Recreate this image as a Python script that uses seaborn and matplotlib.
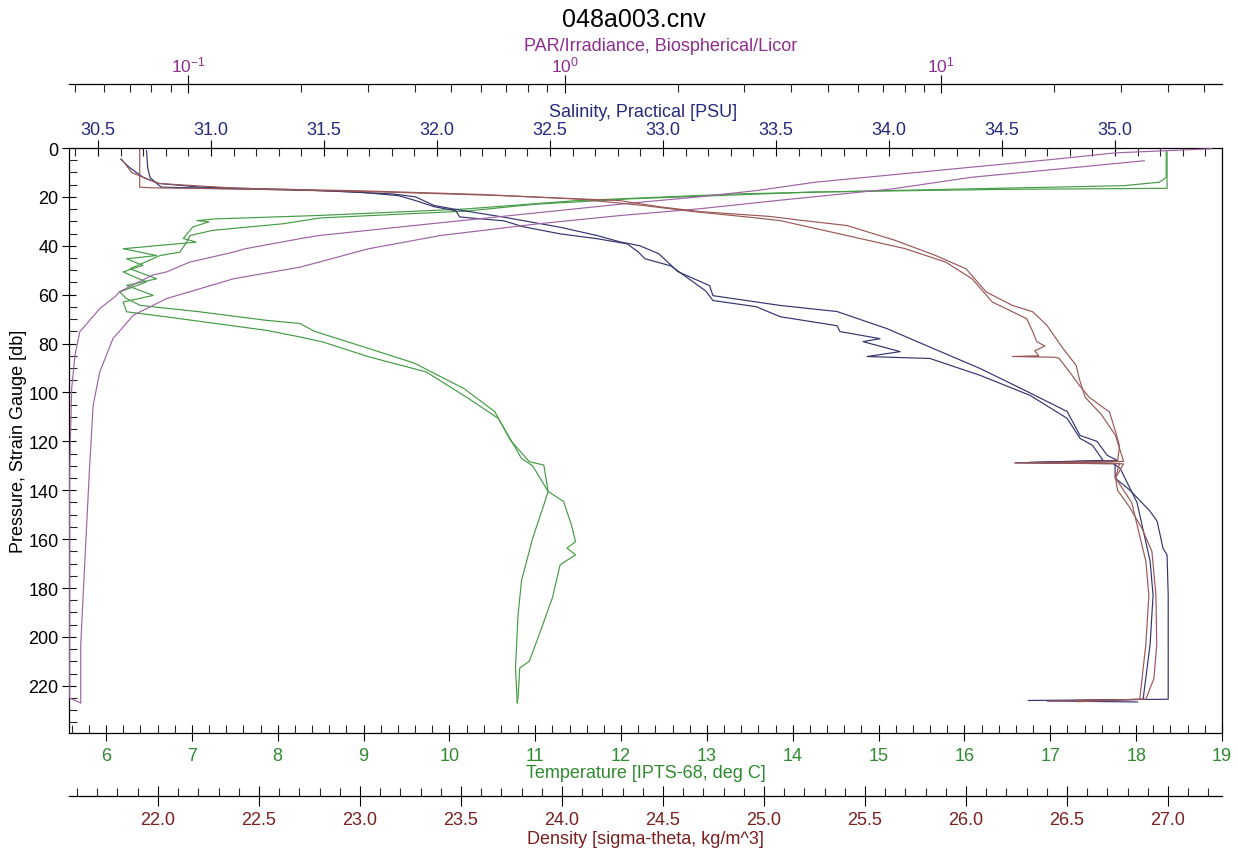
import numpy as np
import pandas as pd
import matplotlib
matplotlib.use("Agg")
import matplotlib.pyplot as plt
import seaborn as sns
from matplotlib.ticker import (MultipleLocator, LogLocator, NullFormatter,
                               LogFormatterMathtext, FormatStrFormatter)

# CTD profiles, (pressure [db], value) per cast
sal_down = [(1.0, 30.715), (8.0, 30.72), (12.0, 30.73), (14.5, 30.76), (16.0, 30.78),
            (16.5, 31.0), (17.5, 31.5), (18.8, 31.805), (20.0, 31.905), (23.5, 31.987),
            (24.9, 32.069), (28.3, 32.296), (32.4, 32.544), (35.8, 32.708), (38.4, 32.81),
            (40.0, 32.898), (43.3, 32.982), (50.6, 33.066), (56.3, 33.206), (60.4, 33.221),
            (64.4, 33.518), (66.9, 33.77), (73.9, 33.991), (82.0, 34.195), (90.2, 34.403),
            (99.6, 34.611), (107.8, 34.788), (117.6, 34.845), (120.0, 34.92), (125.7, 34.965),
            (127.8, 35.01), (128.8, 34.56), (129.1, 35.0), (135.0, 35.0), (140.0, 35.066),
            (148.6, 35.155), (152.7, 35.186), (163.7, 35.212), (166.5, 35.23), (183.0, 35.235),
            (211.0, 35.235), (225.5, 35.235), (226.0, 34.615)]

sal_up = [(4.5, 30.60), (8.0, 30.64), (12.0, 30.70), (14.5, 30.77), (16.0, 30.95),
          (17.0, 31.35), (18.0, 31.65), (19.5, 31.83), (21.5, 31.905), (24.0, 31.987),
          (25.7, 32.084), (28.2, 32.10), (29.8, 32.296), (32.2, 32.381), (35.1, 32.544),
          (37.1, 32.708), (39.2, 32.841), (42.4, 32.889), (45.3, 32.92), (48.2, 33.034),
          (58.4, 33.188), (62.4, 33.221), (64.9, 33.412), (69.0, 33.518), (72.7, 33.77),
          (75.1, 33.783), (78.0, 33.96), (79.2, 33.885), (83.3, 34.049), (85.3, 33.903),
          (86.1, 34.181), (93.0, 34.403), (101.2, 34.624), (110.6, 34.788), (118.8, 34.845),
          (121.6, 34.90), (127.8, 34.947), (128.6, 34.62), (129.0, 34.99), (131.0, 35.022),
          (145.0, 35.097), (169.0, 35.155), (183.0, 35.168), (203.0, 35.155), (225.5, 35.124),
          (226.2, 34.70), (226.6, 35.10)]

den_down = [(0.5, 21.91), (16.0, 21.91), (16.3, 21.97), (17.0, 22.60), (18.1, 23.16),
            (19.5, 23.71), (21.5, 24.285), (24.0, 24.48), (26.0, 24.68), (28.0, 25.03),
            (29.5, 25.175), (31.7, 25.41), (37.8, 25.65), (44.0, 25.85), (49.4, 26.0),
            (58.9, 26.10), (64.4, 26.23), (67.0, 26.33), (72.5, 26.40), (82.0, 26.48),
            (88.9, 26.545), (94.3, 26.56), (102.0, 26.59), (109.0, 26.67), (117.6, 26.74),
            (123.0, 26.76), (128.2, 26.78), (128.8, 26.24), (129.2, 26.78), (135.0, 26.74),
            (140.0, 26.75), (147.0, 26.81), (155.5, 26.87), (165.0, 26.92), (183.0, 26.94),
            (203.0, 26.944), (217.0, 26.93), (225.5, 26.89), (226.2, 26.41)]

den_up = [(4.5, 21.82), (10.0, 21.87), (14.5, 22.0), (16.5, 22.4), (17.5, 23.0),
          (19.0, 23.6), (21.0, 24.1), (23.5, 24.4), (26.0, 24.65), (28.5, 24.95),
          (29.7, 25.08), (35.8, 25.41), (41.2, 25.70), (46.7, 25.90), (53.5, 26.03),
          (63.0, 26.13), (69.8, 26.30), (75.1, 26.33), (79.2, 26.35), (81.0, 26.39),
          (83.0, 26.34), (85.0, 26.36), (85.3, 26.23), (85.6, 26.44), (86.0, 26.46),
          (93.0, 26.525), (97.0, 26.56), (102.0, 26.61), (108.0, 26.71), (116.0, 26.74),
          (122.0, 26.76), (128.0, 26.75), (128.6, 26.50), (129.0, 26.76), (135.0, 26.74),
          (145.0, 26.82), (169.0, 26.89), (183.0, 26.905), (203.0, 26.89), (225.5, 26.86),
          (226.5, 26.55)]

temp_down = [(1.5, 18.35), (12.0, 18.35), (14.0, 18.27), (15.4, 17.86), (17.4, 15.14),
             (18.8, 13.33), (20.8, 11.98), (21.5, 11.49), (24.9, 10.20), (25.6, 9.77),
             (27.6, 8.48), (29.0, 7.27), (29.7, 7.06), (30.2, 7.20), (32.3, 7.01),
             (37.0, 6.90), (38.5, 7.05), (41.2, 6.20), (44.0, 6.59), (45.3, 6.24),
             (48.0, 6.43), (50.7, 6.20), (54.8, 6.47), (58.9, 6.16), (61.6, 6.24),
             (64.4, 6.40), (67.0, 7.09), (70.5, 7.87), (71.8, 8.26), (75.0, 8.43),
             (82.0, 9.06), (88.0, 9.59), (98.4, 10.17), (107.9, 10.53), (119.5, 10.71),
             (128.3, 10.93), (129.7, 11.10), (140.5, 11.15), (146.0, 11.10), (159.6, 10.97),
             (177.0, 10.84), (190.9, 10.80), (212.7, 10.77), (227.0, 10.79)]

temp_up = [(1.5, 18.36), (16.5, 18.36), (16.9, 16.5), (18.0, 14.24), (20.8, 12.1),
           (23.0, 11.0), (25.8, 10.2), (28.6, 8.5), (31.0, 8.06), (33.7, 7.24),
           (35.8, 6.98), (38.5, 6.94), (42.6, 6.86), (44.0, 6.63), (49.4, 6.28),
           (53.5, 6.59), (56.2, 6.24), (60.3, 6.55), (63.0, 6.20), (67.0, 6.24),
           (69.1, 6.71), (74.6, 7.87), (77.3, 8.26), (79.3, 8.52), (85.4, 9.06),
           (91.6, 9.73), (102.4, 10.22), (110.6, 10.57), (127.0, 10.84), (130.0, 10.97),
           (140.5, 11.15), (144.6, 11.33), (154.0, 11.42), (161.0, 11.47), (163.7, 11.37),
           (166.4, 11.47), (170.5, 11.29), (184.0, 11.20), (197.7, 11.06), (210.0, 10.93),
           (212.7, 10.82), (224.9, 10.80), (227.0, 10.79)]

par_down = [(0.3, 52.5), (1.1, 39.6), (2.0, 29.0), (4.5, 20.3), (8.6, 10.7),
            (14.0, 4.63), (17.4, 3.24), (20.0, 2.27), (22.5, 1.51), (26.3, 0.871),
            (31.0, 0.441), (35.8, 0.223), (37.0, 0.20), (41.2, 0.142), (42.6, 0.132),
            (46.7, 0.101), (50.7, 0.0877), (52.0, 0.0805), (58.9, 0.0656), (60.3, 0.0646),
            (65.7, 0.0583), (75.2, 0.0516), (84.8, 0.0501), (98.4, 0.0491), (132.4, 0.0485),
            (225.0, 0.0485), (227.0, 0.0519)]

par_up = [(5.2, 34.7), (7.9, 22.9), (12.0, 12.0), (16.7, 7.45), (21.5, 3.66),
          (24.9, 2.27), (27.6, 1.41), (31.0, 0.851), (35.8, 0.468), (41.2, 0.302),
          (48.7, 0.199), (53.5, 0.132), (61.6, 0.0877), (68.4, 0.0716), (78.0, 0.0632),
          (91.6, 0.0583), (105.2, 0.056), (132.4, 0.0547), (162.0, 0.0535), (203.0, 0.0519),
          (227.0, 0.0519)]

sal_text, sal_line = '#262a7c', '#34346f'
par_text, par_line = '#8f2d8f', '#a062a6'
temp_text, temp_line = '#2e8b2e', '#449c44'
den_text, den_line = '#7b1f1f', '#9a5757'

sns.set_theme(style="ticks")
plt.rcParams['font.family'] = ['Liberation Sans', 'DejaVu Sans']
plt.rcParams['mathtext.default'] = 'regular'
plt.rcParams['text.color'] = 'black'

W, H = 1238, 853
fig = plt.figure(figsize=(W / 100, H / 100), dpi=100)
ax = fig.add_axes([69 / W, 119 / H, 1153 / W, 585 / H])
ax_sal = ax.twiny()
ax_par = ax.twiny()
ax_den = ax.twiny()


def draw(axis, cast, color):
    df = pd.DataFrame(cast, columns=['p', 'v'])
    sns.lineplot(data=df, x='v', y='p', ax=axis, color=color, lw=0.85,
                 sort=False, estimator=None, orient='y')


draw(ax, temp_down, temp_line)
draw(ax, temp_up, temp_line)
draw(ax_sal, sal_down, sal_line)
draw(ax_sal, sal_up, sal_line)
draw(ax_par, par_down, par_line)
draw(ax_par, par_up, par_line)
draw(ax_den, den_down, den_line)
draw(ax_den, den_up, den_line)

ax.set_ylim(239.3, 0)
ax.set_xlim(5.569, 19.0)
ax_sal.set_xlim(30.372, 35.473)
ax_par.set_xscale('log')
ax_par.set_xlim(10 ** -1.316, 10 ** 1.746)
ax_den.set_xlim(21.56, 27.267)

for a in (ax, ax_sal, ax_par, ax_den):
    for s in a.spines.values():
        s.set_visible(False)
        s.set_color('black')
        s.set_linewidth(0.9)
for s in ('left', 'right', 'bottom'):
    ax.spines[s].set_visible(True)
ax_sal.spines['top'].set_visible(True)
ax_par.spines['top'].set_visible(True)
ax_par.spines['top'].set_position(('outward', 46.1))
ax_den.spines['bottom'].set_visible(True)
ax_den.spines['bottom'].set_position(('outward', 45.4))
ax_den.xaxis.set_ticks_position('bottom')
ax_den.xaxis.set_label_position('bottom')

tick_kw = dict(width=0.8, color='black', labelsize=13)

# pressure axis
ax.yaxis.set_major_locator(MultipleLocator(20))
ax.yaxis.set_minor_locator(MultipleLocator(5))
ax.tick_params(axis='y', which='major', direction='inout', length=10, pad=2.5,
               left=True, right=False, labelcolor='black', **tick_kw)
ax.tick_params(axis='y', which='minor', direction='in', length=5.8, width=0.8,
               left=True, right=False)

# temperature axis
ax.xaxis.set_major_locator(MultipleLocator(1))
ax.xaxis.set_minor_locator(MultipleLocator(0.2))
ax.tick_params(axis='x', which='major', direction='inout', length=11.5, pad=4.2,
               bottom=True, top=False, labelcolor=temp_text, **tick_kw)
ax.tick_params(axis='x', which='minor', direction='in', length=5.8, width=0.8,
               bottom=True, top=False)

# salinity axis
ax_sal.xaxis.set_major_locator(MultipleLocator(0.5))
ax_sal.xaxis.set_minor_locator(MultipleLocator(0.1))
ax_sal.xaxis.set_major_formatter(FormatStrFormatter('%.1f'))
ax_sal.tick_params(axis='x', which='major', direction='inout', length=11.5, pad=1.2,
                   top=True, bottom=False, labeltop=True, labelbottom=False,
                   labelcolor=sal_text, **tick_kw)
ax_sal.tick_params(axis='x', which='minor', direction='in', length=5.8, width=0.8,
                   top=True, bottom=False)

# PAR axis
ax_par.xaxis.set_major_locator(LogLocator(base=10, numticks=10))
ax_par.xaxis.set_minor_locator(LogLocator(base=10, subs=np.arange(2, 10), numticks=20))
ax_par.xaxis.set_major_formatter(LogFormatterMathtext())
ax_par.xaxis.set_minor_formatter(NullFormatter())
ax_par.tick_params(axis='x', which='major', direction='inout', length=12.5, pad=0.5,
                   top=True, bottom=False, labeltop=True, labelbottom=False,
                   labelcolor=par_text, width=0.8, color='black', labelsize=12.5)
ax_par.tick_params(axis='x', which='minor', direction='in', length=5.8, width=0.8,
                   top=True, bottom=False)

# density axis
ax_den.xaxis.set_major_locator(MultipleLocator(0.5))
ax_den.xaxis.set_minor_locator(MultipleLocator(0.1))
ax_den.xaxis.set_major_formatter(FormatStrFormatter('%.1f'))
ax_den.tick_params(axis='x', which='major', direction='inout', length=14.4, pad=3.6,
                   bottom=True, top=False, labelbottom=True, labeltop=False,
                   labelcolor=den_text, **tick_kw)
ax_den.tick_params(axis='x', which='minor', direction='in', length=5.8, width=0.8,
                   bottom=True, top=False)

ax.set_xlabel('Temperature [IPTS-68, deg C]', color=temp_text, fontsize=13)
ax.xaxis.set_label_coords(0.5, -0.0667)
ax.set_ylabel('Pressure, Strain Gauge [db]', color='black', fontsize=13)
ax.yaxis.set_label_coords(-0.0442, 0.501)
ax_sal.set_xlabel('Salinity, Practical [PSU]', color=sal_text, fontsize=13)
ax_sal.xaxis.set_label_coords(0.498, 1.063)
ax_par.set_xlabel('PAR/Irradiance, Biospherical/Licor', color=par_text, fontsize=13)
ax_par.xaxis.set_label_coords(0.513, 1.176)
ax_den.set_xlabel('Density [sigma-theta, kg/m^3]', color=den_text, fontsize=13)
ax_den.xaxis.set_label_coords(0.5, -0.181)
for lab in (ax.xaxis.label, ax.yaxis.label, ax_sal.xaxis.label,
            ax_par.xaxis.label, ax_den.xaxis.label):
    lab.set_va('center')
    lab.set_ha('center')

fig.text(634 / W, 1 - 20 / H, '048a003.cnv', ha='center', va='center',
         fontsize=18, color='black')

fig.savefig('out.png', dpi=100)
